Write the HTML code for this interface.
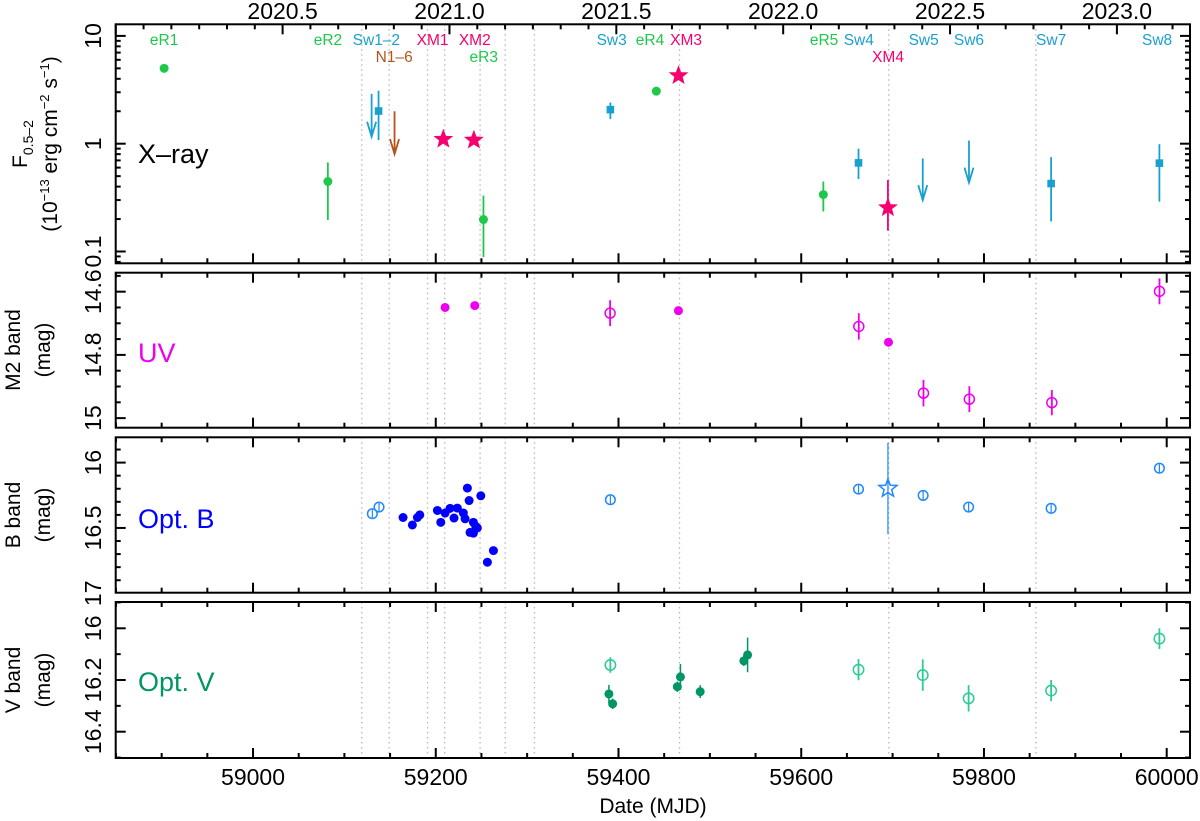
<!DOCTYPE html>
<html><head><meta charset="utf-8"><title>Multiwavelength light curves</title>
<style>
html,body{margin:0;padding:0;background:#fff;}
svg{display:block;font-family:"Liberation Sans",Arial,sans-serif;}
</style></head>
<body>
<svg id="chart" xmlns="http://www.w3.org/2000/svg" width="1200" height="821" viewBox="0 0 1200 821"></svg>
<script>
// ---------- DATA ----------
// X-ray detections [MJD, flux, errLow, errHigh]
const erositaX = [[58902.7,5.0,5.0,5.0],[59081.9,0.446,0.196,0.67],[59252.2,0.198,0.089,0.33],[59441.4,3.07,3.07,3.07],[59624.2,0.337,0.235,0.446]];
const swiftX = [[59137.4,2.01,1.08,3.1],[59391.1,2.07,1.69,2.41],[59662.7,0.664,0.47,0.90],[59873.5,0.427,0.19,0.75],[59992.0,0.66,0.29,0.99]];
const xmmX = [[59208.3,1.10,1.10,1.10],[59241.7,1.08,1.08,1.08],[59465.7,4.28,4.28,4.28],[59694.9,0.255,0.156,0.46]];
// upper limits [MJD, top, limit]
const swiftUL = [[59129.8,2.9,1.16],[59733.0,0.73,0.30],[59783.6,1.07,0.435]];
const nicerUL = [[59154.9,2.0,0.80]];
// UV M2 [MJD, mag, err]
const uvFilled = [[59210.2,14.65,0],[59242.7,14.644,0],[59465.6,14.66,0],[59695.5,14.76,0]];
const uvOpen = [[59390.8,14.668,0.041],[59663.0,14.71,0.042],[59733.8,14.921,0.042],[59784.0,14.94,0.041],[59874.3,14.951,0.04],[59992.1,14.599,0.041]];
// B band
const bFilled = [[59164.2,16.42],[59174.4,16.477],[59179.9,16.42],[59182.5,16.40],[59201.8,16.366],[59205.5,16.457],[59210.2,16.386],[59215.7,16.35],[59220.0,16.424],[59223.6,16.348],[59230.2,16.386],[59232.1,16.43],[59234.6,16.195],[59236.5,16.29],[59241.2,16.457],[59243.8,16.488],[59237.5,16.534],[59241.2,16.54],[59245.5,16.5],[59249.3,16.254],[59263.1,16.673],[59256.5,16.762]];
const bOpen = [[59130.6,16.391,0.02],[59137.9,16.34,0.02],[59391.1,16.284,0.02],[59662.7,16.203,0.02],[59733.4,16.251,0.02],[59783.2,16.34,0.02],[59873.5,16.35,0.02],[59992.0,16.043,0.02]];
const bStar = [[59694.9,16.198,0.35]];
// V band
const vFilled = [[59389.5,16.254,0.035],[59393.6,16.292,0.02],[59464.4,16.226,0.02],[59467.8,16.188,0.05],[59489.4,16.245,0.025],[59537.2,16.126,0.02],[59541.3,16.103,0.067]];
const vOpen = [[59391.1,16.142,0.03],[59662.7,16.16,0.041],[59733.0,16.181,0.061],[59783.2,16.271,0.051],[59873.5,16.241,0.041],[59992.0,16.04,0.04]];
// event markers
const eventLines = [59119,59149,59191,59209.8,59248.5,59276,59308,59466.8,59695.8,59856.8];
const labelText = ["eR1","eR2","Sw1\u20132","N1\u20136","XM1","XM2","eR3","Sw3","eR4","XM3","eR5","Sw4","XM4","Sw5","Sw6","Sw7","Sw8"];
const labelMJD = [58902.7,59082,59135,59154.5,59196.5,59242.7,59252.5,59392.5,59434.5,59474,59625,59663,59695,59734,59783.6,59873.5,59989.5];
const labelRow = [0,0,0,1,0,0,1,0,0,0,0,0,1,0,0,0,0];
const labelKind = ["e","e","s","n","x","x","e","s","e","x","e","s","x","s","s","s","s"];
const xTicksMajor = [59000,59200,59400,59600,59800,60000];
const yearTicks = [2020.5,2021.0,2021.5,2022.0,2022.5,2023.0];

// ---------- SCALES ----------
const X0=115.7, X1=1190, M0=58849.7, M1=60025.5;
const x = m => X0 + (m-M0)*(X1-X0)/(M1-M0);
const P = [
 {top:24.3,bot:263.3,d0:1.1076,d1:-1.1095,log:true},
 {top:272.7,bot:427.7,d0:14.54,d1:15.0303},
 {top:437.3,bot:592.7,d0:15.8064,d1:16.9954},
 {top:602,bot:758,d0:15.8983,d1:16.5017}
];
function y(p,v){const q=P[p];const t=q.log?Math.log10(v):v;return q.top+(t-q.d0)*(q.bot-q.top)/(q.d1-q.d0);}
const C={e:"#1ec84a",s:"#1aa0cf",x:"#f5006e",n:"#b5541a",uv:"#ee00ee",bF:"#0000ff",bO:"#1e88ff",vF:"#009565",vO:"#2ecb96"};

const svg=document.getElementById('chart');
const NS="http://www.w3.org/2000/svg";
function el(tag,attrs,parent){const e=document.createElementNS(NS,tag);for(const k in attrs)e.setAttribute(k,attrs[k]);(parent||svg).appendChild(e);return e;}
function txt(s,attrs,parent){const e=el('text',attrs,parent);e.textContent=s;return e;}

// dotted event lines
const gl=el('g',{});


eventLines.forEach(m=>{P.forEach((p,i)=>{
 const top = (i===0 && m<59300 && m>59200 && false)?p.top:p.top;
 const l=el('line',{x1:x(m),x2:x(m),y1:top,y2:p.bot,stroke:"#b8b8b8","stroke-width":1.3,"stroke-dasharray":"1.5,3.5"},gl);
 
 
});});

// frames and ticks
P.forEach((p,i)=>{
 const g=el('g',{});
 
 
 el('rect',{x:X0,y:p.top,width:X1-X0,height:p.bot-p.top,fill:"none",stroke:"#000","stroke-width":2},g);
 for(let m=58850;m<=60025;m+=50){
  const L=(m%200===0)?10:5;
  el('line',{x1:x(m),x2:x(m),y1:p.bot,y2:p.bot-L,stroke:"#000","stroke-width":2},g);
  if(i>0) el('line',{x1:x(m),x2:x(m),y1:p.top,y2:p.top+L,stroke:"#000","stroke-width":2},g);
 }
 // y ticks
 let ticks=[];
 if(p.log){for(let d=-2;d<=1;d++)for(let k=1;k<=9;k++){const v=k*Math.pow(10,d);const t=Math.log10(v);if(t<=p.d0&&t>=p.d1)ticks.push([v,k===1]);}}
 else{const st=(i===1)?0.05:0.1;const mj=(i===1)?0.2:(i===2?0.5:0.2);
  for(let v=Math.ceil(p.d0/st)*st;v<=p.d1+1e-9;v+=st){const r=Math.round(v*1000)/1000;ticks.push([r,Math.abs(r/mj-Math.round(r/mj))<1e-6]);}}
 ticks.forEach(([v,maj])=>{const yy=y(i,v);const L=maj?10:5;
  el('line',{x1:X0,x2:X0+L,y1:yy,y2:yy,stroke:"#000","stroke-width":2},g);
  el('line',{x1:X1,x2:X1-L,y1:yy,y2:yy,stroke:"#000","stroke-width":2},g);});
});
// year ticks on top of panel 1
const gy=el('g',{});


for(let k=0;k<=48;k++){const yr=2020+k/12;const m=59215+(yr-2021)*365.25;if(m<M0||m>M1)continue;
 const maj=(k%6===0);el('line',{x1:x(m),x2:x(m),y1:P[0].top,y2:P[0].top+(maj?10:5),stroke:"#000","stroke-width":2},gy);}
yearTicks.forEach(yr=>{const m=59215+(yr-2021)*365.25;
 const t=txt(yr.toFixed(1),{x:x(m),y:19,"font-size":23,"text-anchor":"middle"},gy);
 
 });
// bottom labels
xTicksMajor.forEach(m=>{const t=txt(String(m),{x:x(m),y:785,"font-size":23,"text-anchor":"middle"});
 
 });
const xt=txt("Date (MJD)",{x:653,y:813,"font-size":21,"text-anchor":"middle"});



// y tick labels (rotated)
const yLabels=[[0,10,"10"],[0,1,"1"],[0,0.1,"0.1"],[1,14.6,"14.6"],[1,14.8,"14.8"],[1,15,"15"],[2,16,"16"],[2,16.5,"16.5"],[2,17,"17"],[3,16,"16"],[3,16.2,"16.2"],[3,16.4,"16.4"]];
yLabels.forEach(([p,v,s])=>{const yy=y(p,v);
 const t=txt(s,{x:0,y:0,"font-size":23,"text-anchor":"middle",transform:`translate(101,${yy}) rotate(-90)`});
 
 });
// y titles
function ytitle(lines,cy,name){lines.forEach(([s,xx])=>{const t=el('text',{x:0,y:0,"font-size":21,"text-anchor":"middle",transform:`translate(${xx},${cy}) rotate(-90)`});t.innerHTML=s;
 
 });}
ytitle([['F<tspan font-size="14" dy="6">0.5\u20132</tspan>',27],['(10<tspan font-size="13" dy="-8">\u221213</tspan><tspan dy="8"> erg cm</tspan><tspan font-size="13" dy="-8">\u22122</tspan><tspan dy="8"> s</tspan><tspan font-size="13" dy="-8">\u22121</tspan><tspan dy="8">)</tspan>',57]],144,'y-axis-title-xray');
ytitle([['M2 band',20],['(mag)',50]],350,'y-axis-title-uv');
ytitle([['B band',20],['(mag)',50]],515,'y-axis-title-b');
ytitle([['V band',20],['(mag)',50]],680,'y-axis-title-v');
// panel names
[["X\u2013ray",0,163,"#000"],["UV",1,362,C.uv],["Opt. B",2,528,C.bF],["Opt. V",3,691,C.vF]].forEach(([s,p,yy,c])=>{
 const t=txt(s,{x:138,y:yy,"font-size":27,fill:c});
 
 });

// event labels
labelText.forEach((s,i)=>{const c=C[labelKind[i]];
 const t=txt(s,{x:x(labelMJD[i]),y:labelRow[i]?62:45,"font-size":15.5,"text-anchor":"middle",fill:c});
 
 });

// ---------- MARKS ----------
function ebar(xx,y1,y2,c,w){const l=el('line',{x1:xx,x2:xx,y1:y1,y2:y2,stroke:c,"stroke-width":w||1.8});
 
 }
function dot(xx,yy,r,c,name){const e=el('circle',{cx:xx,cy:yy,r:r,fill:c});
 
 }
function ring(xx,yy,r,c,name){const e=el('circle',{cx:xx,cy:yy,r:r,fill:"none",stroke:c,"stroke-width":1.5});
 
 }
function star(xx,yy,R,c,fill,name){let pts=[];for(let k=0;k<10;k++){const r=k%2?R*0.42:R;const a=-Math.PI/2+k*Math.PI/5;pts.push((xx+r*Math.cos(a)).toFixed(1)+','+(yy+r*Math.sin(a)).toFixed(1));}
 const e=el('polygon',{points:pts.join(' '),fill:fill?c:"none",stroke:c,"stroke-width":fill?1:1.5});
 
 }
function arrow(xx,y1,y2,c){const g=el('g',{stroke:c,"stroke-width":1.8,fill:"none"});
 
 
 el('line',{x1:xx,x2:xx,y1:y1,y2:y2},g);
 el('polyline',{points:`${xx-4.5},${y2-15} ${xx},${y2} ${xx+4.5},${y2-15}`},g);}

erositaX.forEach(([m,f,lo,hi])=>{if(lo!==hi)ebar(x(m),y(0,hi),y(0,lo),C.e);dot(x(m),y(0,f),4.5,C.e,'erosita-point');});
swiftX.forEach(([m,f,lo,hi])=>{ebar(x(m),y(0,hi),y(0,lo),C.s);const e=el('rect',{x:x(m)-3.8,y:y(0,f)-3.8,width:7.6,height:7.6,fill:C.s});
 
 });
xmmX.forEach(([m,f,lo,hi])=>{if(lo!==hi)ebar(x(m),y(0,hi),y(0,lo),C.x);star(x(m),y(0,f),9,C.x,true,'xmm-point');});
swiftUL.forEach(([m,t,l])=>arrow(x(m),y(0,t),y(0,l),C.s));
nicerUL.forEach(([m,t,l])=>arrow(x(m),y(0,t),y(0,l),C.n));

uvFilled.forEach(([m,v])=>dot(x(m),y(1,v),4.5,C.uv,'uv-filled-point'));
uvOpen.forEach(([m,v,e])=>{ebar(x(m),y(1,v-e),y(1,v+e),C.uv);ring(x(m),y(1,v),5,C.uv,'uv-open-point');});

bFilled.forEach(([m,v])=>dot(x(m),y(2,v),4.5,C.bF,'b-filled-point'));
bOpen.forEach(([m,v,e])=>{ebar(x(m),y(2,v-e)-1.5,y(2,v+e)+1.5,C.bO,1.2);ring(x(m),y(2,v),4.8,C.bO,'b-open-point');});
bStar.forEach(([m,v,e])=>{ebar(x(m),y(2,v-e),y(2,v+e),C.bO,1.2);star(x(m),y(2,v),9.5,C.bO,false,'b-star-point');});

vFilled.forEach(([m,v,e])=>{ebar(x(m),y(3,v-e),y(3,v+e),C.vF,1.5);dot(x(m),y(3,v),4.5,C.vF,'v-filled-point');});
vOpen.forEach(([m,v,e])=>{ebar(x(m),y(3,v-e),y(3,v+e),C.vO,1.8);ring(x(m),y(3,v),5.2,C.vO,'v-open-point');});
</script>
</body></html>
